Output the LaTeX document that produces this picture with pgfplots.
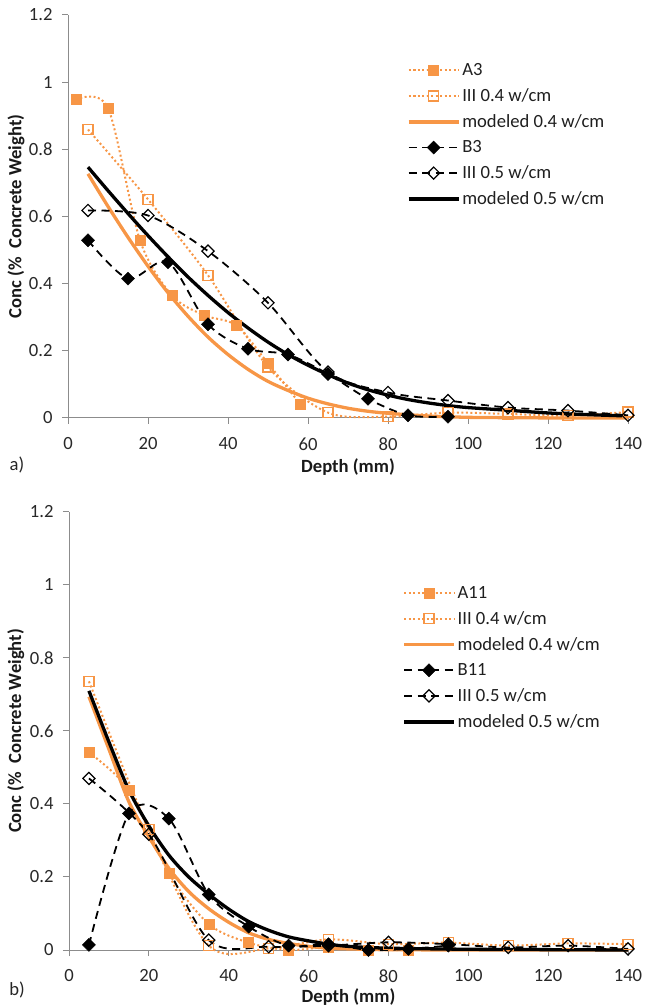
\documentclass[border=0pt]{standalone}
\usepackage{fontspec}
\setmainfont{Carlito}
\usepackage{pgfplots}
\pgfplotsset{compat=1.18}

\definecolor{xlorange}{RGB}{247,150,70}
\definecolor{axisgray}{RGB}{140,140,140}
\definecolor{ticktext}{RGB}{40,40,40}

\newcommand{\chartfont}{\fontsize{18.7}{21}\selectfont}

\pgfplotsset{
  concaxis/.style={
    scale only axis,
    xmin=0, xmax=140, ymin=0, ymax=1.2,
    axis lines*=left,
    axis line style={axisgray, line width=1bp},
    xtick={0,20,40,60,80,100,120,140},
    ytick={0,0.2,0.4,0.6,0.8,1,1.2},
    tick align=outside,
    major tick length=6bp,
    tick style={axisgray, line width=1bp},
    ticklabel style={font=\chartfont, text=ticktext},
    xticklabel style={yshift=-10bp},
    yticklabel style={xshift=-6bp, /pgf/number format/fixed, /pgf/number format/precision=1},
    /pgf/number format/assume math mode=true,
    xlabel={\textbf{Depth (mm)}},
    ylabel={\textbf{Conc (\%\ \ Concrete Weight)}},
    label style={font=\chartfont, text=black!90},
    clip=false,
    legend cell align=left,
    legend image code/.code={\draw[mark repeat=2,mark phase=2,##1] plot coordinates {(0bp,0bp) (25bp,0bp) (50bp,0bp)};},
    legend style={draw=none, fill=none, inner sep=0pt, anchor=north west,
      font=\chartfont, text=black!88, row sep=7.6bp,
      /tikz/every even column/.append style={column sep=5bp}},
  },
  % measured, orange: dotted line, filled squares
  measA/.style={xlorange, line width=2bp, dash pattern=on 2bp off 2.5bp, smooth,
    mark=square*, mark size=5bp, mark options={solid, fill=xlorange, draw=xlorange, line width=0.5bp}},
  % simulated, orange: dotted line, hollow squares
  simA/.style={xlorange, line width=2bp, dash pattern=on 2bp off 2.5bp, smooth,
    mark=square, mark size=5bp, mark options={solid, draw=xlorange, line width=1.3bp}},
  modA/.style={xlorange, line width=3.3bp, smooth, no markers},
  % measured, black: dashed line, filled diamonds
  measB/.style={black, line width=1.8bp, dash pattern=on 8bp off 5.5bp, smooth,
    mark=square*, mark size=4.6bp, mark options={solid, rotate=45, fill=black, line width=0.5bp}},
  % simulated, black: dashed line, hollow diamonds
  simB/.style={black, line width=1.8bp, dash pattern=on 8bp off 5.5bp, smooth,
    mark=square, mark size=4.3bp, mark options={solid, rotate=45, line width=1.2bp}},
  modB/.style={black, line width=3.3bp, smooth, no markers},
}

\begin{document}
\begin{tikzpicture}
\path[use as bounding box] (0bp,0bp) rectangle (647bp,1005bp);

% ---------------- panel a) ----------------
\begin{axis}[concaxis,
  at={(68bp,587bp)}, anchor=south west,
  width=560bp, height=403bp,
  xlabel style={at={(axis description cs:0.5,-0.122)}, anchor=center},
  ylabel style={at={(axis description cs:-0.093,0.5)}, anchor=center},
  legend style={at={(rel axis cs:0.605,0.885)}},
]
\addplot[measA] coordinates {(2,0.948)(10,0.923)(18,0.529)(26,0.365)(34,0.306)(42,0.276)(50,0.163)(58,0.042)};
\addlegendentry{A3}
\addplot[simA] coordinates {(5,0.859)(20,0.651)(35,0.425)(50,0.152)(65,0.016)(80,0.004)(95,0.016)(110,0.012)(125,0.007)(140,0.018)};
\addlegendentry{III 0.4 w/cm}
\addplot[modA] coordinates {(5,0.727)(10,0.630)(15,0.538)(20,0.452)(25,0.373)(30,0.303)(35,0.241)(40,0.189)(45,0.145)(50,0.109)(55,0.082)(60,0.059)(65,0.042)(70,0.029)(75,0.020)(80,0.014)(90,0.006)(100,0.002)(110,0.001)(125,0.0)(140,0.0)};
\addlegendentry{modeled 0.4 w/cm}
\addplot[measB] coordinates {(5,0.529)(15,0.415)(25,0.464)(35,0.279)(45,0.206)(55,0.189)(65,0.131)(75,0.057)(85,0.008)(95,0.004)};
\addlegendentry{B3}
\addplot[simB] coordinates {(5,0.618)(20,0.603)(35,0.497)(50,0.343)(65,0.137)(80,0.076)(95,0.052)(110,0.031)(125,0.022)(140,0.008)};
\addlegendentry{III 0.5 w/cm}
\addplot[modB] coordinates {(5,0.747)(10,0.677)(15,0.609)(20,0.543)(25,0.480)(30,0.420)(35,0.365)(40,0.314)(45,0.268)(50,0.226)(55,0.189)(60,0.157)(65,0.129)(70,0.104)(75,0.084)(80,0.068)(85,0.055)(90,0.045)(95,0.037)(100,0.031)(110,0.023)(120,0.015)(130,0.010)(140,0.006)};
\addlegendentry{modeled 0.5 w/cm}
\end{axis}

% ---------------- panel b) ----------------
\begin{axis}[concaxis,
  at={(69bp,55bp)}, anchor=south west,
  width=559bp, height=438bp,
  xlabel style={at={(axis description cs:0.5,-0.107)}, anchor=center},
  ylabel style={at={(axis description cs:-0.095,0.5)}, anchor=center},
  legend style={at={(rel axis cs:0.596,0.835)}},
]
\addplot[measA] coordinates {(5,0.541)(15,0.438)(25,0.210)(35,0.071)(45,0.020)(55,0.0)(65,0.008)(75,0.0)(85,0.0)};
\addlegendentry{A11}
\addplot[simA] coordinates {(5,0.736)(20,0.330)(35,0.012)(50,0.004)(65,0.029)(80,0.016)(95,0.020)(110,0.012)(125,0.018)(140,0.016)};
\addlegendentry{III 0.4 w/cm}
\addplot[modA] coordinates {(5,0.694)(10,0.550)(15,0.406)(20,0.310)(25,0.224)(30,0.160)(35,0.113)(40,0.076)(45,0.047)(50,0.029)(55,0.018)(60,0.010)(65,0.005)(70,0.003)(80,0.001)(100,0.0)(140,0.0)};
\addlegendentry{modeled 0.4 w/cm}
\addplot[measB] coordinates {(5,0.014)(15,0.374)(25,0.360)(35,0.152)(45,0.064)(55,0.012)(65,0.016)(75,0.0)(85,0.003)(95,0.012)};
\addlegendentry{B11}
\addplot[simB] coordinates {(5,0.470)(20,0.317)(35,0.027)(50,0.009)(65,0.012)(80,0.021)(95,0.016)(110,0.007)(125,0.012)(140,0.003)};
\addlegendentry{III 0.5 w/cm}
\addplot[modB] coordinates {(5,0.710)(10,0.570)(15,0.438)(20,0.340)(25,0.260)(30,0.200)(35,0.153)(40,0.112)(45,0.078)(50,0.054)(55,0.036)(60,0.025)(65,0.016)(70,0.010)(80,0.005)(100,0.002)(120,0.001)(140,0.0)};
\addlegendentry{modeled 0.5 w/cm}
\end{axis}

\node[font=\chartfont, text=black!85] at (17bp,540bp) {a)};
\node[font=\chartfont, text=black!85] at (17bp,15bp) {b)};
\end{tikzpicture}
\end{document}
